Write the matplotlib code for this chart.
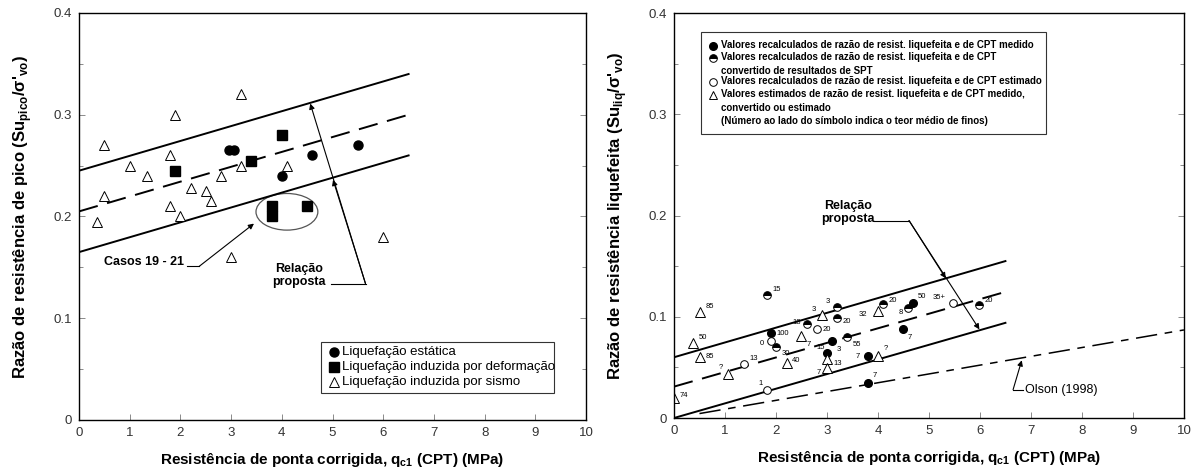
import matplotlib
matplotlib.use("Agg")
import matplotlib.pyplot as plt
from matplotlib.patches import Ellipse, Rectangle
from matplotlib.ticker import MultipleLocator

plt.rcParams["font.family"] = ["Liberation Sans", "DejaVu Sans"]

# ---- left panel: peak strength ratio ----
static_x = [2.95, 3.05, 4.0, 4.6, 5.5]
static_y = [0.265, 0.265, 0.24, 0.26, 0.27]
deform_x = [1.9, 3.4, 4.0, 3.8, 3.8, 4.5]
deform_y = [0.245, 0.255, 0.28, 0.21, 0.20, 0.21]
seismic_x = [0.35, 0.5, 0.5, 1.0, 1.35, 1.8, 1.8, 1.9, 2.0, 2.2, 2.5, 2.6, 2.8, 3.0, 3.2, 3.2, 4.1, 6.0]
seismic_y = [0.195, 0.27, 0.22, 0.25, 0.24, 0.26, 0.21, 0.30, 0.20, 0.228, 0.225, 0.215, 0.24, 0.16, 0.32, 0.25, 0.25, 0.18]
peak_line_x = [0.0, 6.5]
peak_upper = [0.245, 0.34]
peak_mid = [0.205, 0.30]
peak_lower = [0.165, 0.26]
left_legend = ["Liquefação estática", "Liquefação induzida por deformação", "Liquefação induzida por sismo"]

# ---- right panel: liquefied strength ratio ----
meas_x = [1.9, 3.10, 3.01, 3.81, 3.81, 4.50, 4.69]
meas_y = [0.0837, 0.0763, 0.0639, 0.0612, 0.0349, 0.0876, 0.1133]
meas_lab = ["100", "3", "15", "7", "7", "7", "50"]
spt_x = [1.82, 2.01, 3.19, 3.20, 2.60, 3.40, 4.09, 4.59, 5.98]
spt_y = [0.1215, 0.0704, 0.110, 0.0985, 0.0925, 0.0797, 0.1123, 0.1083, 0.1116]
spt_lab = ["15", "30", "3", "20", "18", "55", "20", "8", "20"]
est_x = [1.9, 1.37, 1.82, 2.81, 5.48]
est_y = [0.076, 0.053, 0.0277, 0.0876, 0.1139]
est_lab = ["0", "13", "1", "20", "35+"]
tri_x = [0.52, 0.37, 0.52, 1.06, 0.01, 2.21, 2.50, 2.90, 3.01, 3.01, 4.01, 4.01]
tri_y = [0.105, 0.0744, 0.0606, 0.0431, 0.0194, 0.054, 0.0813, 0.1017, 0.058, 0.049, 0.106, 0.0615]
tri_lab = ["85", "50", "85", "?", "74", "40", "7", "3", "13", "7", "32", "?"]
liq_line_x = [0.0, 6.5]
liq_upper = [0.06, 0.155]
liq_mid = [0.031, 0.1246]
liq_lower = [0.0, 0.094]
olson_x = [0.5, 10.0]
olson_y = [0.0044, 0.087]
right_legend = [
    "Valores recalculados de razão de resist. liquefeita e de CPT medido",
    "Valores recalculados de razão de resist. liquefeita e de CPT\nconvertido de resultados de SPT",
    "Valores recalculados de razão de resist. liquefeita e de CPT estimado",
    "Valores estimados de razão de resist. liquefeita e de CPT medido,\nconvertido ou estimado\n(Número ao lado do símbolo indica o teor médio de finos)",
]

# label offsets in points for the fines-content numbers
meas_off = [(4, 0), (3, -6), (-8, 4), (-9, 0), (3, 5), (3, -6), (3, 5)]
spt_off = [(4, 4), (4, -5), (-8, 4), (4, -2), (-10, 1), (4, -5), (4, 3), (-7, -3), (4, 3)]
est_off = [(-8, -2), (4, 4), (-6, 5), (4, 0), (-15, 4)]
tri_off = [(4, 4), (4, 4), (4, 0), (-7, 5), (4, 2), (4, 2), (4, -6), (-7, 4), (4, -3), (-8, -3), (-14, -3), (4, 5)]

fig = plt.figure(figsize=(11.96, 4.70), dpi=100)
ax1 = fig.add_axes([0.0661, 0.1064, 0.4239, 0.866])
ax2 = fig.add_axes([0.5635, 0.1106, 0.4264, 0.8617])

xlabel = r"Resistência de ponta corrigida, q$_{\mathregular{c1}}$ (CPT) (MPa)"
arrow = dict(arrowstyle="-|>", lw=0.8, color="k", mutation_scale=8, shrinkA=0, shrinkB=0)
fmt = plt.FuncFormatter(lambda v, p: "0" if v == 0 else f"{v:.1f}")

for ax in (ax1, ax2):
    ax.set_xlim(0, 10)
    ax.set_ylim(0, 0.4)
    ax.xaxis.set_major_locator(MultipleLocator(1))
    ax.yaxis.set_major_locator(MultipleLocator(0.1))
    ax.yaxis.set_minor_locator(MultipleLocator(0.05))
    ax.yaxis.set_major_formatter(fmt)
    ax.tick_params(which="both", direction="in", top=False, right=True, length=4, width=0.6,
                   color="#777", labelsize=9.5, labelcolor="#333", pad=5)
    ax.tick_params(which="minor", length=3)
    for s in ax.spines.values():
        s.set_linewidth(1.0)
    ax.set_xlabel(xlabel, fontsize=11, fontweight="bold", labelpad=9)

# ---- left ----
ax1.plot(peak_line_x, peak_upper, color="k", lw=1.4)
ax1.plot(peak_line_x, peak_mid, color="k", lw=1.4, dashes=(10, 5))
ax1.plot(peak_line_x, peak_lower, color="k", lw=1.4)
ax1.plot(static_x, static_y, "o", ms=6.5, color="k", ls="none")
ax1.plot(deform_x, deform_y, "s", ms=6.5, color="k", ls="none")
ax1.plot(seismic_x, seismic_y, "^", ms=7.5, mfc="white", mec="k", mew=0.7, ls="none")
ax1.add_patch(Ellipse((4.1, 0.2046), 1.22, 0.036, fill=False, ec="#555", lw=0.9))
ax1.text(2.07, 0.155, "Casos 19 - 21", ha="right", va="center", fontsize=9, fontweight="bold")
ax1.plot([2.12, 2.37], [0.151, 0.151], color="k", lw=0.8)
ax1.annotate("", xy=(3.45, 0.193), xytext=(2.37, 0.151), arrowprops=arrow)
ax1.text(4.33, 0.142, "Relação\nproposta", ha="center", va="center", fontsize=9, fontweight="bold",
         linespacing=1.15)
ax1.plot([4.96, 5.65], [0.134, 0.134], color="k", lw=0.8)
ax1.annotate("", xy=(4.56, 0.311), xytext=(5.65, 0.134), arrowprops=arrow)
ax1.annotate("", xy=(5.01, 0.236), xytext=(5.65, 0.134), arrowprops=arrow)
ax1.set_ylabel(r"Razão de resistência de pico (Su$_{\mathregular{pico}}$/σ'$_{\mathregular{vo}}$)",
               fontsize=12, fontweight="bold", labelpad=14)

ax1.add_patch(Rectangle((4.77, 0.0265), 4.6, 0.0502, fill=False, ec="#333", lw=0.8))
leg_y1 = [0.0671, 0.0524, 0.0376]
leg_mk = [dict(marker="o", ms=6.5, color="k"), dict(marker="s", ms=6.5, color="k"),
          dict(marker="^", ms=7, mfc="white", mec="k", mew=0.7)]
for yy, lab, mk in zip(leg_y1, left_legend, leg_mk):
    ax1.plot([5.03], [yy], ls="none", **mk)
    ax1.text(5.19, yy, lab, va="center", ha="left", fontsize=9.5)

# ---- right ----
ax2.plot(liq_line_x, liq_upper, color="k", lw=1.4)
ax2.plot(liq_line_x, liq_mid, color="k", lw=1.4, dashes=(10, 5))
ax2.plot(liq_line_x, liq_lower, color="k", lw=1.4)
ax2.plot(olson_x, olson_y, color="k", lw=1.1, dashes=(14, 5, 5, 5))
ax2.plot(meas_x, meas_y, "o", ms=5.5, color="k", ls="none")
ax2.plot(spt_x, spt_y, "o", ms=5.5, fillstyle="top", mfc="k", mfcalt="white", mec="k", mew=0.7, ls="none")
ax2.plot(est_x, est_y, "o", ms=5.5, mfc="white", mec="k", mew=0.7, ls="none")
ax2.plot(tri_x, tri_y, "^", ms=7, mfc="white", mec="k", mew=0.7, ls="none")
for xs, ys, labs, offs in ((meas_x, meas_y, meas_lab, meas_off), (spt_x, spt_y, spt_lab, spt_off),
                           (est_x, est_y, est_lab, est_off), (tri_x, tri_y, tri_lab, tri_off)):
    for xx, yy, lab, off in zip(xs, ys, labs, offs):
        ax2.annotate(lab, (xx, yy), xytext=off, textcoords="offset points", fontsize=5.5,
                     ha="left", va="center")

ax2.text(3.41, 0.203, "Relação\nproposta", ha="center", va="center", fontsize=9, fontweight="bold",
         linespacing=1.15)
ax2.plot([3.92, 4.61], [0.195, 0.195], color="k", lw=0.8)
ax2.annotate("", xy=(5.33, 0.138), xytext=(4.61, 0.195), arrowprops=arrow)
ax2.annotate("", xy=(5.99, 0.0875), xytext=(4.61, 0.195), arrowprops=arrow)
ax2.text(6.88, 0.028, "Olson (1998)", ha="left", va="center", fontsize=9)
ax2.plot([6.65, 6.85], [0.028, 0.028], color="k", lw=0.8)
ax2.annotate("", xy=(6.82, 0.057), xytext=(6.65, 0.028), arrowprops=arrow)
ax2.set_ylabel(r"Razão de resistência liquefeita (Su$_{\mathregular{liq}}$/σ'$_{\mathregular{vo}}$)",
               fontsize=12, fontweight="bold", labelpad=14)

ax2.add_patch(Rectangle((0.53, 0.281), 6.77, 0.1005, fill=False, ec="#333", lw=0.8))
leg_rows = [0.3674, 0.3553, 0.3323, 0.3190]
leg_mk2 = [dict(marker="o", ms=5.5, color="k"),
           dict(marker="o", ms=5.5, fillstyle="top", mfc="k", mfcalt="white", mec="k", mew=0.7),
           dict(marker="o", ms=5.5, mfc="white", mec="k", mew=0.7),
           dict(marker="^", ms=6, mfc="white", mec="k", mew=0.7)]
for yy, lab, mk in zip(leg_rows, right_legend, leg_mk2):
    ax2.plot([0.757], [yy], ls="none", **mk)
    ax2.text(0.93, yy + 0.0058, lab, va="top", ha="left", fontsize=7, fontweight="bold",
             linespacing=1.45)

fig.savefig("out.png", dpi=100)
